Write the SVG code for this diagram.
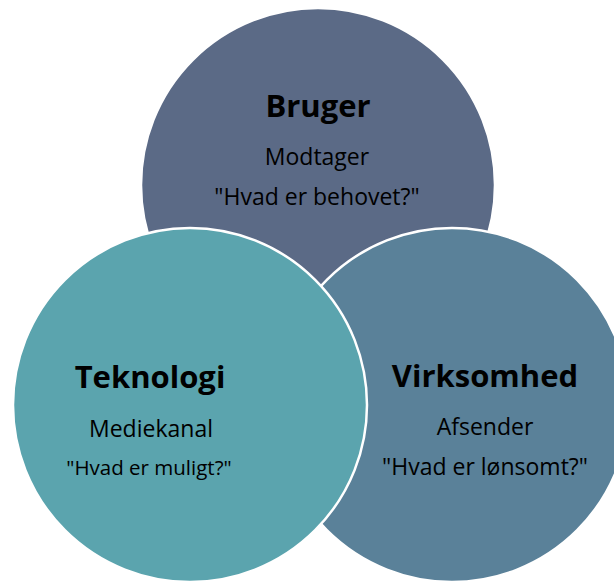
<svg xmlns="http://www.w3.org/2000/svg" width="614" height="583" viewBox="0 0 614 583">
  <style>
    .ring { stroke: #ffffff; stroke-width: 2.5; }
    .title { font-family: "Open Sans", "Liberation Sans", sans-serif; font-weight: bold; font-size: 31px; fill: #000000; text-anchor: middle; }
    .sub { font-family: "Open Sans", "Liberation Sans", sans-serif; font-size: 23px; fill: #000000; text-anchor: middle; }
    .small { font-size: 20.5px; }
  </style>
  <rect width="614" height="583" fill="#ffffff"/>

  <!-- top circle -->
  <g id="bruger">
    <circle class="ring" cx="318" cy="185" r="177" fill="#5b6a86"/>
    <text class="title" x="318" y="117">Bruger</text>
    <text class="sub" x="317" y="165">Modtager</text>
    <text class="sub" x="317" y="205">"Hvad er behovet?"</text>
  </g>

  <!-- right circle -->
  <g id="virksomhed">
    <circle class="ring" cx="452" cy="405" r="177" fill="#5a8199"/>
    <text class="title" x="485" y="387">Virksomhed</text>
    <text class="sub" x="485" y="435">Afsender</text>
    <text class="sub" x="485" y="475">"Hvad er lønsomt?"</text>
  </g>

  <!-- left circle -->
  <g id="teknologi">
    <circle class="ring" cx="190" cy="405" r="177" fill="#5ba4ae"/>
    <text class="title" x="150" y="388">Teknologi</text>
    <text class="sub" x="151" y="437">Mediekanal</text>
    <text class="sub small" x="149" y="475">"Hvad er muligt?"</text>
  </g>
</svg>
